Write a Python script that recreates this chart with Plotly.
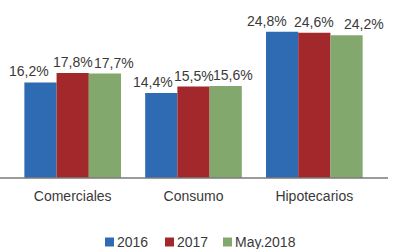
import plotly.graph_objects as go

categories = ["Comerciales", "Consumo", "Hipotecarios"]
series_names = ["2016", "2017", "May.2018"]
values_2016 = [16.2, 14.4, 24.8]
values_2017 = [17.8, 15.5, 24.6]
values_may2018 = [17.7, 15.6, 24.2]
colors = ["#2F6BB3", "#A2282C", "#82A86E"]

# label horizontal nudges (px) per series, per category
label_nudge = [[-10, -7, -14], [0, 0, 0], [8, 6, 16]]
# legend swatch left edges (px)
legend_x = [105, 165, 223]
legend_y = 242

FONT = "Liberation Sans, Arial, sans-serif"
TXT = "#3a3a3a"
FS = 14

W, H = 395, 249
ML, MR, MT, MB = 7, 9, 1, 71
plot_w = W - ML - MR
plot_h = H - MT - MB
bargap = 0.2
bar_px = plot_w / len(categories) * (1 - bargap) / 3


def px_x(px):
    return (px - ML) / plot_w


def px_y(py):
    return (H - MB - py) / plot_h


fig = go.Figure()
all_vals = [values_2016, values_2017, values_may2018]
for i, (name, vals, col) in enumerate(zip(series_names, all_vals, colors)):
    fig.add_trace(go.Bar(
        x=categories, y=vals, name=name,
        marker=dict(color=col, line=dict(width=0)),
        showlegend=False,
    ))
    for j, (cat, v) in enumerate(zip(categories, vals)):
        fig.add_annotation(
            x=cat, y=v, xref="x", yref="y",
            text=f"{v:.1f}%".replace(".", ","),
            showarrow=False, yanchor="bottom", xanchor="center",
            xshift=(i - 1) * bar_px + label_nudge[i][j], yshift=1,
            font=dict(family=FONT, size=FS, color=TXT),
        )
    # legend entry: swatch + label
    lx = legend_x[i]
    fig.add_shape(type="rect", xref="paper", yref="paper",
                  x0=px_x(lx), x1=px_x(lx + 9),
                  y0=px_y(legend_y + 4.5), y1=px_y(legend_y - 4.5),
                  fillcolor=col, line=dict(width=0))
    fig.add_annotation(
        x=px_x(lx + 10), y=px_y(legend_y), xref="paper", yref="paper",
        text=name, showarrow=False, xanchor="left", yanchor="middle",
        font=dict(family=FONT, size=FS, color=TXT),
    )

# baseline axis line (extends slightly beyond the plot area, as in the original)
fig.add_shape(type="line", xref="paper", yref="paper",
              x0=px_x(0), x1=px_x(388), y0=0, y1=0,
              line=dict(color="#7a7a7a", width=1.6), layer="above")

fig.update_layout(
    width=W, height=H,
    margin=dict(l=ML, r=MR, t=MT, b=MB, autoexpand=False),
    barmode="group", bargap=bargap, bargroupgap=0,
    paper_bgcolor="white", plot_bgcolor="white",
    font=dict(family=FONT, size=FS, color=TXT),
    showlegend=False,
    xaxis=dict(showline=False, ticks="",
               ticklabelstandoff=8,
               tickfont=dict(family=FONT, size=FS, color=TXT), showgrid=False,
               fixedrange=True),
    yaxis=dict(range=[0, 30], visible=False, showgrid=False, zeroline=False,
               fixedrange=True),
)

fig.write_html("out.html", config={"displayModeBar": False},
               post_script="document.body.style.margin='0';document.body.style.overflow='hidden';")
